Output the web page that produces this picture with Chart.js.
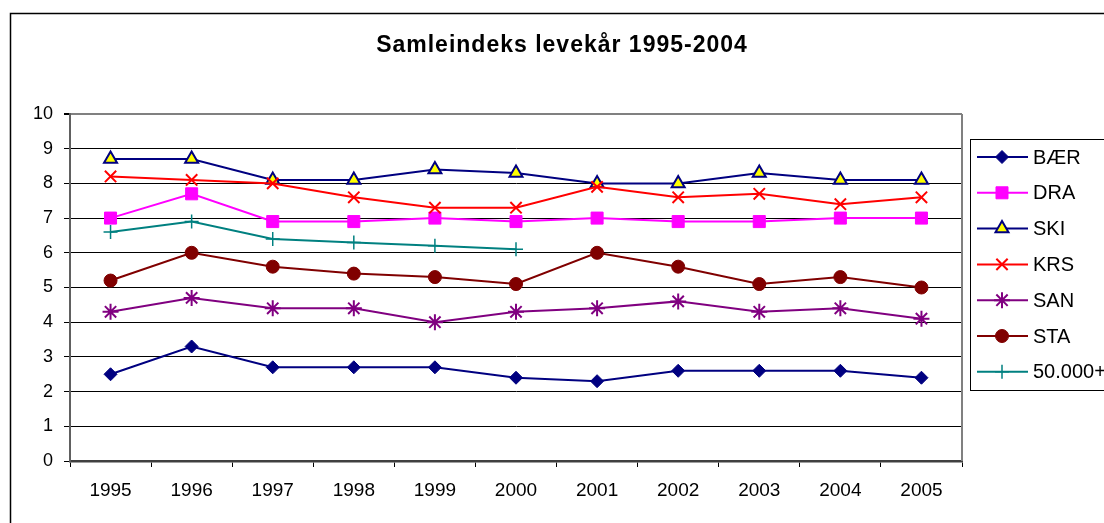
<!DOCTYPE html>
<html>
<head>
<meta charset="utf-8">
<script src="https://cdn.jsdelivr.net/npm/chart.js@4/dist/chart.umd.min.js"></script>
<style>
html,body{margin:0;padding:0;background:#fff;}
#wrap{width:1104px;height:523px;position:relative;}
</style>
</head>
<body>
<div id="wrap"><canvas id="c" width="1104" height="523"></canvas></div>
<script>
const years = ['1995','1996','1997','1998','1999','2000','2001','2002','2003','2004','2005'];
const seriesNames = ['BÆR','DRA','SKI','KRS','SAN','STA','50.000+'];
const baer = [2.5,3.3,2.7,2.7,2.7,2.4,2.3,2.6,2.6,2.6,2.4];
const dra  = [7.0,7.7,6.9,6.9,7.0,6.9,7.0,6.9,6.9,7.0,7.0];
const ski  = [8.7,8.7,8.1,8.1,8.4,8.3,8.0,8.0,8.3,8.1,8.1];
const krs  = [8.2,8.1,8.0,7.6,7.3,7.3,7.9,7.6,7.7,7.4,7.6];
const san  = [4.3,4.7,4.4,4.4,4.0,4.3,4.4,4.6,4.3,4.4,4.1];
const sta  = [5.2,6.0,5.6,5.4,5.3,5.1,6.0,5.6,5.1,5.3,5.0];
const over50k = [6.6,6.9,6.4,6.3,6.2,6.1,null,null,null,null,null];
const yTicks = [0,1,2,3,4,5,6,7,8,9,10];
const chartTitle = 'Samleindeks levekår 1995-2004';

const FONT = "'Liberation Sans', Arial, sans-serif";

const styles = [
  {data: baer, line:'#000080', style:'rectRot', r:6.5, bg:'#000080', bw:1},
  {data: dra, line:'#FF00FF', style:'rect', r:8.5, bg:'#FF00FF', bw:1, bc:'#FF00FF'},
  {data: ski, line:'#000080', style:'triangle', r:7.5, bg:'#FFFF00', bw:2, bc:'#000080'},
  {data: krs, line:'#FF0000', style:'crossRot', r:8, bg:'#FF0000', bw:2},
  {data: san, line:'#800080', style:'star', r:8, bg:'#800080', bw:2},
  {data: sta, line:'#800000', style:'circle', r:6.5, bg:'#800000', bw:1},
  {data: over50k, line:'#008080', style:'cross', r:7, bg:'#008080', bw:1.5}
];

const datasets = styles.map((s, i) => ({
  label: seriesNames[i],
  data: s.data,
  borderColor: s.line,
  borderWidth: 2,
  backgroundColor: s.bg,
  pointStyle: s.style,
  pointRadius: s.r,
  pointHoverRadius: s.r,
  pointBackgroundColor: s.bg,
  pointBorderColor: s.bc || s.line,
  pointBorderWidth: s.bw,
  tension: 0,
  fill: false,
  spanGaps: false,
  order: -i
}));

const framePlugin = {
  id: 'frame',
  beforeDraw(chart) {
    const ctx = chart.ctx;
    ctx.save();
    ctx.fillStyle = '#fff';
    ctx.fillRect(0, 0, chart.width, chart.height);
    ctx.strokeStyle = '#000';
    ctx.lineWidth = 1.5;
    ctx.strokeRect(10.5, 13.5, 1200, 600);
    ctx.restore();
  },
  afterDraw(chart) {
    const ctx = chart.ctx;
    const a = chart.chartArea;
    ctx.save();
    ctx.strokeStyle = '#808080';
    ctx.lineWidth = 2;
    ctx.beginPath();
    ctx.moveTo(a.right, a.top);
    ctx.lineTo(a.right, a.bottom);
    ctx.stroke();
    ctx.fillStyle = '#000';
    ctx.font = 'bold 23px ' + FONT;
    ctx.textAlign = 'center';
    ctx.textBaseline = 'middle';
    try { ctx.letterSpacing = '1px'; } catch(e) {}
    ctx.fillText(chartTitle, 562, 46);
    try { ctx.letterSpacing = '0px'; } catch(e) {}
    const lx = 970.5, ly = 139.5;
    ctx.fillStyle = '#fff';
    ctx.fillRect(lx, ly, 200, 251);
    ctx.strokeStyle = '#000';
    ctx.lineWidth = 1;
    ctx.strokeRect(lx, ly, 200, 251);
    chart.data.datasets.forEach((ds, i) => {
      const y = 157 + i * 35.8;
      ctx.strokeStyle = ds.borderColor;
      ctx.lineWidth = 2;
      ctx.beginPath();
      ctx.moveTo(977, y);
      ctx.lineTo(1028, y);
      ctx.stroke();
      ctx.fillStyle = ds.pointBackgroundColor;
      ctx.strokeStyle = ds.pointBorderColor;
      ctx.lineWidth = ds.pointBorderWidth;
      if (Chart.helpers && Chart.helpers.drawPoint) {
        Chart.helpers.drawPoint(ctx, {pointStyle: ds.pointStyle, radius: ds.pointRadius, rotation: 0, borderWidth: ds.pointBorderWidth}, 1002, y);
      }
      ctx.fillStyle = '#000';
      ctx.font = '20px ' + FONT;
      ctx.textAlign = 'left';
      ctx.textBaseline = 'middle';
      ctx.fillText(ds.label, 1033, y + 1);
    });
    ctx.restore();
  }
};

new Chart(document.getElementById('c'), {
  type: 'line',
  data: { labels: years, datasets: datasets },
  options: {
    responsive: false,
    animation: false,
    events: [],
    layout: { padding: { left: 0, top: 114, right: 142, bottom: 0 } },
    plugins: { legend: { display: false }, title: { display: false }, tooltip: { enabled: false } },
    scales: {
      x: {
        type: 'category',
        offset: true,
        afterFit(scale) { scale.height = 62; },
        grid: { offset: true, drawOnChartArea: false, drawTicks: true, tickLength: 6, tickColor: '#000', lineWidth: 1 },
        border: { display: true, color: '#404040', width: 2.5 },
        ticks: { color: '#000', font: { family: FONT, size: 19 }, padding: 12, maxRotation: 0, autoSkip: false }
      },
      y: {
        min: 0, max: 10,
        afterFit(scale) { scale.width = 70; },
        afterBuildTicks(scale) { scale.ticks = yTicks.map(v => ({ value: v })); },
        grid: {
          color: (c) => (c.tick && c.tick.value === 10) ? '#808080' : '#000',
          lineWidth: (c) => (c.tick && c.tick.value === 10) ? 2 : 1,
          drawTicks: true, tickLength: 6, tickColor: '#000'
        },
        border: { display: true, color: '#606060', width: 2 },
        ticks: { color: '#000', font: { family: FONT, size: 18 }, padding: 11, stepSize: 1 }
      }
    }
  },
  plugins: [framePlugin]
});
</script>
</body>
</html>
